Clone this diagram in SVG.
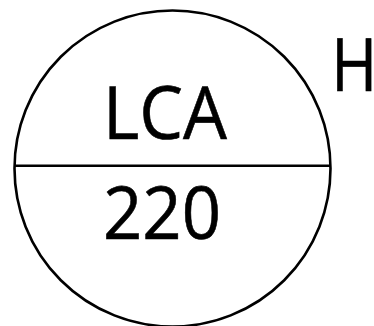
<svg xmlns="http://www.w3.org/2000/svg" width="374" height="326" viewBox="0 0 374 326">
<style>
.t{font-family:"Open Sans","Noto Sans","Liberation Sans",sans-serif;font-size:73px;fill:#000;stroke:#000;stroke-width:0.6}
.s{fill:none;stroke:#000;stroke-width:2.6}
</style>
<rect width="374" height="326" fill="#fff"/>
<g id="node-lca">
<circle class="s" cx="172.5" cy="168.5" r="158"/>
<line class="s" x1="14.5" y1="165.7" x2="330.5" y2="165.7" stroke-width="3"/>
<text class="t" x="103" y="138.5" textLength="124" lengthAdjust="spacingAndGlyphs">LCA</text>
<text class="t" x="103" y="238.5" textLength="118" lengthAdjust="spacingAndGlyphs">220</text>
</g>
<g id="label-h">
<text class="t" x="331.2" y="91" textLength="46" lengthAdjust="spacingAndGlyphs">H</text>
</g>
</svg>
